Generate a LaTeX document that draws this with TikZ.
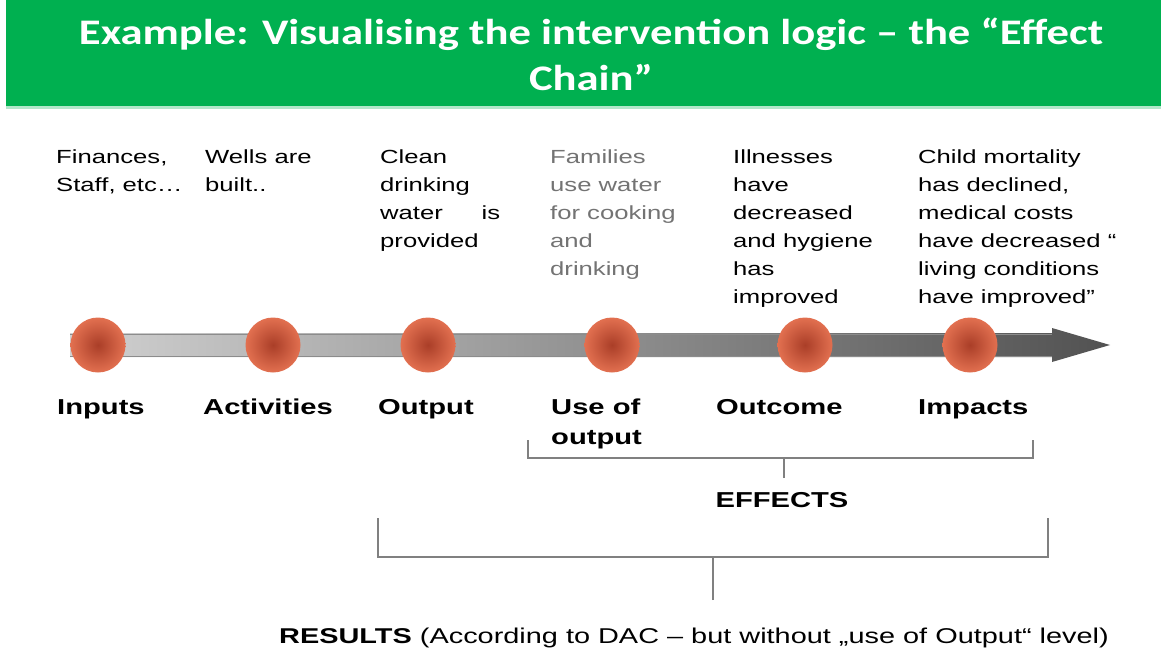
\documentclass[tikz,border=0pt]{standalone}
\usepackage{fontspec}
\setmainfont{Liberation Sans}[FakeStretch=1.35]
\newfontfamily\titlefont{Carlito}[FakeStretch=1.24]
\usetikzlibrary{positioning, calc}

\definecolor{bannergreen}{RGB}{0,176,80}
\definecolor{dotred}{RGB}{226,112,80}
\definecolor{dotdark}{RGB}{170,62,40}
\definecolor{bargray}{RGB}{128,128,128}

\tikzset{
	toptext/.style={anchor=north west, inner sep=0pt, align=left, font=\fontsize{19}{28}\selectfont},
	steplabel/.style={anchor=north west, inner sep=0pt, align=left, font=\fontsize{21.6}{30}\selectfont\bfseries},
	dot/.style={circle, minimum size=55pt, inner sep=0pt, inner color=dotdark, outer color=dotred},
	bracket/.style={draw=bargray, line width=1.6pt}
}

\begin{document}
\begin{tikzpicture}[x=1pt, y=-1pt]
		
		\useasboundingbox (0,0) rectangle (1161,650);
		
		%//banner
		\fill[bannergreen] (6,0) rectangle (1161,106);
		\fill[bannergreen!30] (6,106) rectangle (1161,109);
		\node (title) [anchor=north, inner sep=0pt, text=white, align=center, font=\titlefont\fontsize{36}{46}\selectfont\bfseries] at (591,18)
		{Example: Visualising the intervention logic – the “Effect\\Chain”};
		
		%//the chain
		\shade[left color=black!18, right color=black!68] (70,333) -- (1052,333) -- (1052,328) -- (1110,345) -- (1052,362) -- (1052,357) -- (70,357) -- cycle;
		\draw[black!45, line width=1pt] (70,334) -- (1052,334);
		\draw[black!45, line width=1pt] (70,356) -- (1052,356);
		
		\foreach \x/\name in {98/inp, 273/act, 428/outp, 612/use, 805/outc, 970/imp}
		\node [dot] (\name) at (\x,345) {};
		
		%//texts above
		\node [toptext] (tinp) at (56,150) {Finances,\\Staff, etc\ldots};
		\node [toptext] (tact) at (205,150) {Wells are\\built..};
		\node [toptext, text width=120pt] (toutp) at (380,150) {Clean\\drinking\\water\hfill is\\provided};
		\node [toptext, text=black!55] (tuse) at (550,150) {Families\\use water\\for cooking\\and\\drinking};
		\node [toptext] (toutc) at (733,150) {Illnesses\\have\\decreased\\and hygiene\\has\\improved};
		\node [toptext] (timp) at (918,150) {Child mortality\\has declined,\\medical costs\\have decreased “\\living conditions\\have improved”};
		
		%//labels below
		\foreach \x/\name/\val in {57/linp/Inputs, 203/lact/Activities, 378/loutp/Output, 716/loutc/Outcome, 918/limp/Impacts}
		\node [steplabel] (\name) at (\x,399) {\val};
		\node [steplabel] (luse) at (551,399) {Use of\\output};
		
		%//effects
		\coordinate (ea) at (528,440);
		\coordinate (eb) at (1033,440);
		\coordinate (em) at (784,478);
		\node [steplabel, anchor=north] (effects) at (782,492) {EFFECTS};
		\draw [bracket] (ea) |- ($(eb)+(0,18)$) -- (eb);
		\draw [bracket] (em) -- (em |- 0,458);
		
		%//results
		\coordinate (ra) at (378,518);
		\coordinate (rb) at (1048,518);
		\coordinate (rm) at (713,600);
		\draw [bracket] (ra) |- ($(rb)+(0,39)$) -- (rb);
		\draw [bracket] (rm) -- (rm |- 0,557);
		\node (results) [anchor=base, inner sep=0pt, font=\fontsize{21.4}{24}\selectfont] at (694,643)
		{\textbf{RESULTS} (According to DAC – but without „use of Output“ level)};
		
\end{tikzpicture}
\end{document}
